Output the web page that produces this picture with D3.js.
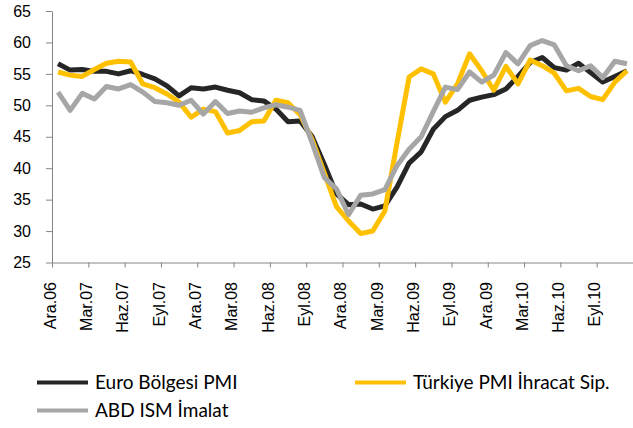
<!doctype html>
<html>
<head>
<meta charset="utf-8">
<script src="https://cdn.jsdelivr.net/npm/d3@7"></script>
<style>
  html, body { margin: 0; padding: 0; background: #fff; }
  svg { display: block; font-family: Lato, "Open Sans", sans-serif; }
  .axis path, .axis line { stroke: #868686; }
  .axis text { fill: #000; }
</style>
</head>
<body>
<svg id="chart" width="633" height="428"></svg>
<script>
  // months shown on the category axis (Dec 2006 - Nov 2010)
  var months = [
    'Ara.06', 'Oca.07', 'Şub.07', 'Mar.07', 'Nis.07', 'May.07', 'Haz.07', 'Tem.07', 'Ağu.07', 'Eyl.07', 'Eki.07', 'Kas.07',
    'Ara.07', 'Oca.08', 'Şub.08', 'Mar.08', 'Nis.08', 'May.08', 'Haz.08', 'Tem.08', 'Ağu.08', 'Eyl.08', 'Eki.08', 'Kas.08',
    'Ara.08', 'Oca.09', 'Şub.09', 'Mar.09', 'Nis.09', 'May.09', 'Haz.09', 'Tem.09', 'Ağu.09', 'Eyl.09', 'Eki.09', 'Kas.09',
    'Ara.09', 'Oca.10', 'Şub.10', 'Mar.10', 'Nis.10', 'May.10', 'Haz.10', 'Tem.10', 'Ağu.10', 'Eyl.10', 'Eki.10', 'Kas.10'
  ];

  // every third month gets a label
  var tickLabels = ['Ara.06', 'Mar.07', 'Haz.07', 'Eyl.07', 'Ara.07', 'Mar.08', 'Haz.08', 'Eyl.08',
    'Ara.08', 'Mar.09', 'Haz.09', 'Eyl.09', 'Ara.09', 'Mar.10', 'Haz.10', 'Eyl.10'];

  var euroPmi = [
    56.6, 55.6, 55.7, 55.4, 55.4, 55.0, 55.5, 54.9, 54.2, 53.1, 51.5, 52.8,
    52.6, 52.9, 52.4, 52.0, 50.9, 50.7, 49.4, 47.4, 47.5, 45.0, 40.6, 35.9,
    34.2, 34.3, 33.5, 34.0, 37.0, 40.8, 42.6, 46.2, 48.2, 49.2, 50.8, 51.3,
    51.7, 52.6, 54.6, 56.8, 57.6, 56.0, 55.6, 56.7, 55.2, 53.7, 54.6, 55.5
  ];

  var turkeyExport = [
    55.3, 54.8, 54.6, 55.7, 56.7, 57.0, 56.9, 53.4, 52.8, 51.8, 50.5, 48.1,
    49.4, 49.0, 45.6, 46.0, 47.4, 47.5, 50.8, 50.4, 48.5, 44.5, 39.2, 33.9,
    31.6, 29.6, 30.0, 33.2, 44.0, 54.5, 55.8, 55.0, 50.5, 53.4, 58.2, 55.5,
    52.4, 56.2, 53.4, 57.2, 56.3, 55.1, 52.3, 52.7, 51.4, 50.9, 53.7, 55.5
  ];

  var usIsm = [
    52.1, 49.2, 51.9, 51.0, 53.0, 52.6, 53.3, 52.1, 50.6, 50.4, 50.0, 50.8,
    48.6, 50.6, 48.7, 49.1, 48.9, 49.6, 50.1, 49.7, 49.2, 44.0, 38.5, 36.7,
    32.6, 35.7, 35.9, 36.6, 40.4, 43.0, 45.0, 49.0, 52.9, 52.5, 55.3, 53.7,
    54.8, 58.4, 56.6, 59.5, 60.3, 59.6, 56.3, 55.5, 56.3, 54.4, 57.0, 56.6
  ];

  var yTicks = [25, 30, 35, 40, 45, 50, 55, 60, 65];

  // drawing order as in the source: Euro first, US ISM on top
  var series = [
    { name: 'Euro Bölgesi PMI', values: euroPmi, color: '#262626' },
    { name: 'Türkiye PMI İhracat Sip.', values: turkeyExport, color: '#ffc000' },
    { name: 'ABD ISM İmalat', values: usIsm, color: '#a6a6a6' }
  ];

  var plot = { left: 52, right: 633, top: 11, bottom: 262.5 };

  var svg = d3.select('#chart');

  var x = d3.scaleLinear()
    .domain([0, months.length])
    .range([plot.left, plot.right]);

  var y = d3.scaleLinear()
    .domain([25, 65])
    .range([plot.bottom, plot.top]);

  // y axis
  var yAxis = svg.append('g')
    .attr('class', 'axis')
    .attr('transform', 'translate(' + plot.left + ',0)')
    .call(d3.axisLeft(y).tickValues(yTicks).tickSize(6).tickPadding(15).tickSizeOuter(0));
  yAxis.selectAll('text').style('font-size', '16px');

  // x axis, a tick every three months
  var xTickValues = d3.range(0, months.length + 1, 3);
  var xAxis = svg.append('g')
    .attr('class', 'axis')
    .attr('transform', 'translate(0,' + plot.bottom + ')')
    .call(d3.axisBottom(x)
      .tickValues(xTickValues)
      .tickSize(5)
      .tickSizeOuter(0)
      .tickFormat(function (d) { return tickLabels[d / 3] || ''; }));
  xAxis.selectAll('text')
    .style('font-size', '16px')
    .style('text-anchor', 'end')
    .attr('x', -19.5)
    .attr('y', -2.5)
    .attr('dy', '0.36em')
    .attr('transform', 'rotate(-90)');

  var line = d3.line()
    .x(function (d, i) { return x(i + 0.5); })
    .y(function (d) { return y(d); });

  svg.append('g').selectAll('path.series')
    .data(series)
    .enter().append('path')
    .attr('class', 'series')
    .attr('fill', 'none')
    .attr('stroke', function (d) { return d.color; })
    .attr('stroke-width', 5)
    .attr('stroke-linejoin', 'round')
    .attr('d', function (d) { return line(d.values); });

  // legend, same layout as the original
  var legendItems = [
    { s: series[0], x: 37, y: 382.5 },
    { s: series[1], x: 355, y: 382.5 },
    { s: series[2], x: 37, y: 410.5 }
  ];

  var legend = svg.append('g').selectAll('g')
    .data(legendItems)
    .enter().append('g')
    .attr('transform', function (d) { return 'translate(' + d.x + ',' + d.y + ')'; });

  legend.append('line')
    .attr('x1', 0).attr('x2', 51)
    .attr('y1', 0).attr('y2', 0)
    .attr('stroke', function (d) { return d.s.color; })
    .attr('stroke-width', 4);

  legend.append('text')
    .attr('x', 58)
    .attr('dy', '0.36em')
    .style('font-size', '19px')
    .text(function (d) { return d.s.name; });
</script>
</body>
</html>
